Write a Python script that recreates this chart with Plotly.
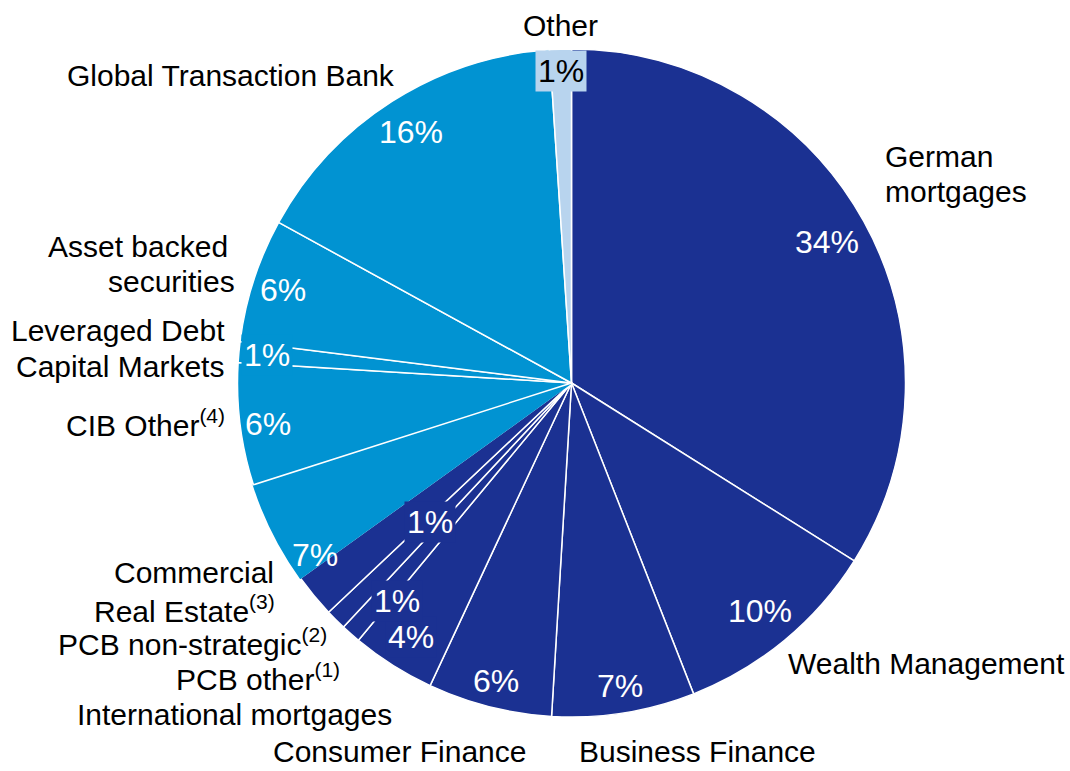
import numpy as np
import plotly.graph_objects as go

# ---------------- data ----------------
slice_names = [
    "German mortgages", "Wealth Management", "Business Finance", "Consumer Finance",
    "International mortgages", "PCB other(1)", "PCB non-strategic(2)",
    "Commercial Real Estate(3) (dark part)", "Commercial Real Estate(3)",
    "CIB Other(4)", "Leveraged Debt Capital Markets", "Asset backed securities",
    "Global Transaction Bank", "Other",
]
shares = [33.9, 10.1, 6.9, 6.0, 4.05, 0.95, 1.0, 2.1, 5.0, 5.9, 1.0, 6.0, 15.95, 1.05]
groups = ["PCB", "PCB", "PCB", "PCB", "PCB", "PCB", "PCB", "PCB", "CIB",
          "CIB", "CIB", "CIB", "CIB", "Other"]

# percentage labels: text and the slices they belong to
pct_text = ["34%", "10%", "7%", "6%", "4%", "1%", "1%", "7%", "6%", "1%", "6%", "16%", "1%"]
pct_slices = [[0], [1], [2], [3], [4], [5], [6], [7, 8], [9], [10], [11], [12], [13]]

# ---------------- style ----------------
W, H = 1070, 771
CX, CY, R = 571.5, 383.0, 334.0
DARK, LIGHT, PALE = "#1b3192", "#0193d2", "#b8d4ee"
group_color = {"PCB": DARK, "CIB": LIGHT, "Other": PALE}
colors = [group_color[g] for g in groups]
line_colors = ["white"] * len(shares)
line_colors[8] = LIGHT  # no visible border inside the CRE slice
FONT = "Liberation Sans, Arial, sans-serif"
NAME_FS = 30
PCT_FS = 32

# per-label radial placement (fraction of radius) and angle nudges (deg)
pct_rad = [0.875, 0.886, 0.92, 0.92, 0.90, 0.835, 0.593, 0.925, 0.916, 0.916, 0.907, 0.892, 0.934]
pct_dang = [0, 0, 0, 0, 0, -2.7, 0.6, -3.4, -0.5, 0, 0, 0, 0]
pct_color = ["white"] * 12 + ["black"]
pct_bg = [None] * 4 + [DARK, DARK, DARK] + [None, None, LIGHT, None, None] + [PALE]

fig = go.Figure(go.Pie(
    labels=slice_names,
    values=shares,
    sort=False,
    direction="clockwise",
    rotation=0,
    textinfo="none",
    hoverinfo="label+percent",
    marker=dict(colors=colors, line=dict(color=line_colors, width=1.5)),
    domain=dict(x=[(CX - R) / W, (CX + R) / W], y=[1 - (CY + R) / H, 1 - (CY - R) / H]),
    showlegend=False,
))

total = float(np.sum(shares))
edges = np.concatenate([[0.0], np.cumsum(shares)]) / total * 360.0

annotations = []


def px(x, y):
    return x / W, 1 - y / H


for txt, sl, rf, da, col, bg in zip(pct_text, pct_slices, pct_rad, pct_dang, pct_color, pct_bg):
    a0, a1 = edges[sl[0]], edges[sl[-1] + 1]
    ang = np.deg2rad((a0 + a1) / 2 + da)
    x = CX + rf * R * np.sin(ang)
    y = CY - rf * R * np.cos(ang)
    ax, ay = px(x, y)
    ann = dict(text=txt, x=ax, y=ay, xref="paper", yref="paper", showarrow=False,
               xanchor="center", yanchor="middle",
               font=dict(family=FONT, size=PCT_FS, color=col))
    if bg:
        ann["bgcolor"] = bg
        ann["borderpad"] = 2
    annotations.append(ann)

# category name labels: (text, x px, y px, anchor)
name_labels = [
    ("Other", 560, 26, "center"),
    ("Global Transaction Bank", 230.5, 76, "center"),
    ("German", 883, 157, "left"),
    ("mortgages", 883, 191, "left"),
    ("Wealth Management", 926.5, 663, "center"),
    ("Business Finance", 697, 751, "center"),
    ("Consumer Finance", 399.5, 751, "center"),
    ("International mortgages", 393.5, 714, "right"),
    ("PCB other<sup>(1)</sup>", 342, 677, "right"),
    ("PCB non-strategic<sup>(2)</sup>", 328.5, 642, "right"),
    ("Real Estate<sup>(3)</sup>", 276.5, 609, "right"),
    ("Commercial", 275.5, 572, "right"),
    ("CIB Other<sup>(4)</sup>", 227, 423, "right"),
    ("Leveraged Debt", 226.5, 330, "right"),
    ("Capital Markets", 225.5, 366, "right"),
    ("Asset backed", 229.5, 247, "right"),
    ("securities", 237, 281, "right"),
]
for txt, x, y, anc in name_labels:
    ax, ay = px(x, y)
    annotations.append(dict(text=txt, x=ax, y=ay, xref="paper", yref="paper", showarrow=False,
                            xanchor=anc, yanchor="middle",
                            font=dict(family=FONT, size=NAME_FS, color="black")))

fig.update_layout(
    width=W, height=H,
    margin=dict(l=0, r=0, t=0, b=0),
    paper_bgcolor="white", plot_bgcolor="white",
    annotations=annotations,
)

fig.write_html("out.html", config={"displayModeBar": False},
               post_script="document.body.style.margin='0';")
